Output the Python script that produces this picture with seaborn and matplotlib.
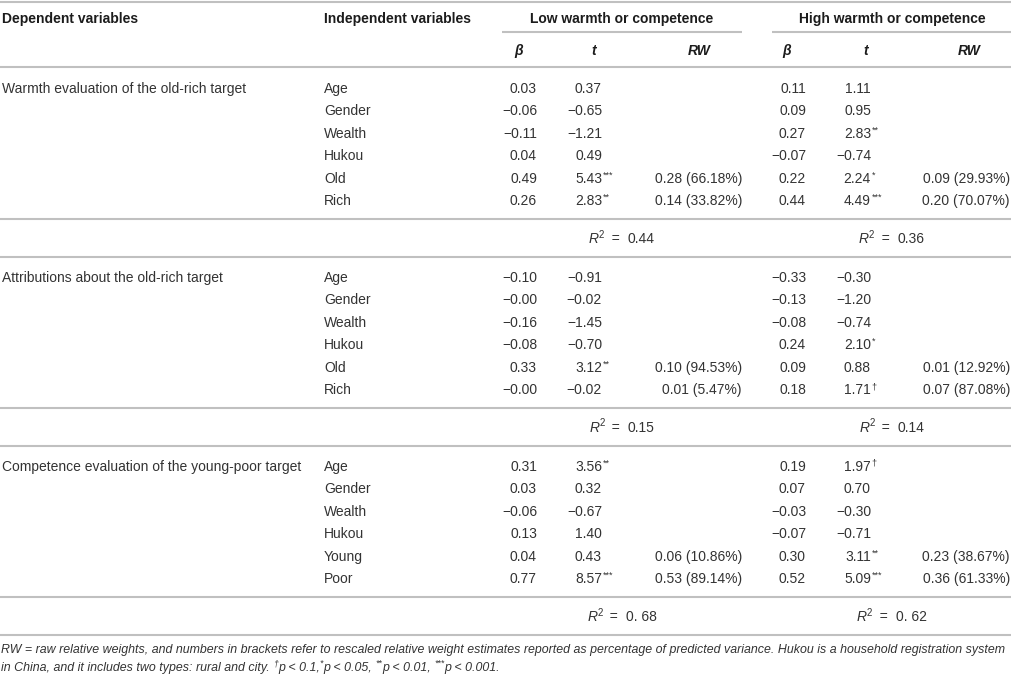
import matplotlib
matplotlib.use("Agg")
import matplotlib.pyplot as plt
from matplotlib import font_manager as fm
import seaborn as sns

# ---- table content -------------------------------------------------------
dependent = ["Warmth evaluation of the old-rich target",
             "Attributions about the old-rich target",
             "Competence evaluation of the young-poor target"]
independent = [["Age", "Gender", "Wealth", "Hukou", "Old", "Rich"],
               ["Age", "Gender", "Wealth", "Hukou", "Old", "Rich"],
               ["Age", "Gender", "Wealth", "Hukou", "Young", "Poor"]]

low_beta = [["0.03", "−0.06", "−0.11", "0.04", "0.49", "0.26"],
            ["−0.10", "−0.00", "−0.16", "−0.08", "0.33", "−0.00"],
            ["0.31", "0.03", "−0.06", "0.13", "0.04", "0.77"]]
low_t = [["0.37", "−0.65", "−1.21", "0.49", "5.43", "2.83"],
         ["−0.91", "−0.02", "−1.45", "−0.70", "3.12", "−0.02"],
         ["3.56", "0.32", "−0.67", "1.40", "0.43", "8.57"]]
low_t_sig = [["", "", "", "", "***", "**"],
             ["", "", "", "", "**", ""],
             ["**", "", "", "", "", "***"]]
low_rw = [["", "", "", "", "0.28 (66.18%)", "0.14 (33.82%)"],
          ["", "", "", "", "0.10 (94.53%)", "0.01 (5.47%)"],
          ["", "", "", "", "0.06 (10.86%)", "0.53 (89.14%)"]]

high_beta = [["0.11", "0.09", "0.27", "−0.07", "0.22", "0.44"],
             ["−0.33", "−0.13", "−0.08", "0.24", "0.09", "0.18"],
             ["0.19", "0.07", "−0.03", "−0.07", "0.30", "0.52"]]
high_t = [["1.11", "0.95", "2.83", "−0.74", "2.24", "4.49"],
          ["−0.30", "−1.20", "−0.74", "2.10", "0.88", "1.71"],
          ["1.97", "0.70", "−0.30", "−0.71", "3.11", "5.09"]]
high_t_sig = [["", "", "**", "", "*", "***"],
              ["", "", "", "*", "", "†"],
              ["†", "", "", "", "**", "***"]]
high_rw = [["", "", "", "", "0.09 (29.93%)", "0.20 (70.07%)"],
           ["", "", "", "", "0.01 (12.92%)", "0.07 (87.08%)"],
           ["", "", "", "", "0.23 (38.67%)", "0.36 (61.33%)"]]

r2_low = ["0.44", "0.15", "0. 68"]
r2_high = ["0.36", "0.14", "0. 62"]

group_titles = ["Low warmth or competence", "High warmth or competence"]
col_titles = ["β", "t", "RW"]

note_line1 = ("RW = raw relative weights, and numbers in brackets refer to rescaled relative weight "
              "estimates reported as percentage of predicted variance. Hukou is a household registration system")
note_line2 = [("in China, and it includes two types: rural and city. ", False),
              ("†", True), ("p < 0.1,", False), ("*", True), ("p < 0.05, ", False),
              ("**", True), ("p < 0.01, ", False), ("***", True), ("p < 0.001.", False)]

# ---- layout ---------------------------------------------------------------
W, H = 1012, 675
TEXT = "#333333"
HEAD = "#1c1c1c"
RULE = "#c0c0c0"
FS = 10

X_DEP, X_IND = 2, 324
GROUP_X = [(502, 742), (772, 1012)]
COL_RIGHT = [(537, 602, 742), (806, 871, 1010)]
COL_HEAD_X = [(519, 594, 699), (787, 866, 969)]
Y_HEAD, Y_GROUP_RULE, Y_SUB, Y_SUB_RULE = 18, 32, 50, 67
FIRST_ROW, ROW_STEP, BLOCK_STEP = 88, 22.4, 189
NOTE_Y = [649, 667]

sns.set_theme(style="white")
plt.rcParams["font.family"] = ["Liberation Sans", "DejaVu Sans"]

names = {f.name for f in fm.fontManager.ttflist}
NOTE_FONT = ["Liberation Sans Narrow", "Liberation Sans", "DejaVu Sans"] \
    if "Liberation Sans Narrow" in names else ["Liberation Sans", "DejaVu Sans"]

fig = plt.figure(figsize=(W / 100, H / 100), dpi=100)
fig.patch.set_facecolor("white")
ax = fig.add_axes([0, 0, 1, 1])
ax.set_xlim(0, W)
ax.set_ylim(H, 0)
ax.axis("off")
renderer = fig.canvas.get_renderer()


def base(yc):
    # row centre -> text baseline
    return yc + 5


def advance(s, **kw):
    a = ax.text(0, 0, s + "|", **kw)
    b = ax.text(0, 0, "|", **kw)
    w = a.get_window_extent(renderer).width - b.get_window_extent(renderer).width
    a.remove()
    b.remove()
    return w


def runs(x, yc, parts, ha="left", size=FS, color=TEXT, family=None, style="normal"):
    # parts: (text, superscript?, extra style)
    items = []
    for s, sup, *extra in parts:
        st = extra[0] if extra else style
        kw = dict(fontsize=size * (0.7 if sup else 1.0), fontstyle=st, color=color)
        if family:
            kw["family"] = family
        items.append((s, sup, kw, advance(s, **kw)))
    total = sum(i[3] for i in items)
    x0 = x - total if ha == "right" else (x - total / 2 if ha == "center" else x)
    for s, sup, kw, w in items:
        ax.text(x0, base(yc) - (size * 0.55 if sup else 0), s, va="baseline", ha="left", **kw)
        x0 += w


# rules
ax.hlines(1.5, 0, W, color=RULE, lw=1.5)
for x0, x1 in GROUP_X:
    ax.hlines(Y_GROUP_RULE, x0, x1, color=RULE, lw=1.5)
ax.hlines(Y_SUB_RULE, 0, W, color=RULE, lw=1.5)

# headers
ax.text(X_DEP, base(Y_HEAD), "Dependent variables", fontweight="bold", fontsize=FS, color=HEAD, va="baseline")
ax.text(X_IND, base(Y_HEAD), "Independent variables", fontweight="bold", fontsize=FS, color=HEAD, va="baseline")
for (x0, x1), title in zip(GROUP_X, group_titles):
    ax.text((x0 + x1) / 2, base(Y_HEAD), title, fontweight="bold", fontsize=FS, color=HEAD,
            ha="center", va="baseline")
for xs in COL_HEAD_X:
    for xc, title in zip(xs, col_titles):
        ax.text(xc, base(Y_SUB), title, fontweight="bold", fontstyle="italic", fontsize=FS,
                color=HEAD, ha="center", va="baseline")

# body
groups = [(low_beta, low_t, low_t_sig, low_rw), (high_beta, high_t, high_t_sig, high_rw)]
for b in range(len(dependent)):
    y_first = FIRST_ROW + b * BLOCK_STEP
    ax.text(X_DEP, base(y_first), dependent[b], fontsize=FS, color=TEXT, va="baseline")
    for r, name in enumerate(independent[b]):
        yc = y_first + r * ROW_STEP
        ax.text(X_IND, base(yc), name, fontsize=FS, color=TEXT, va="baseline")
        for (beta, tv, sig, rw), (xb, xt, xr) in zip(groups, COL_RIGHT):
            ax.text(xb, base(yc), beta[b][r], fontsize=FS, color=TEXT, ha="right", va="baseline")
            ax.text(xt, base(yc), tv[b][r], fontsize=FS, color=TEXT, ha="right", va="baseline")
            if sig[b][r]:
                ax.text(xt + 0.5, base(yc) - 5, sig[b][r], fontsize=6.5, color=TEXT, ha="left",
                        va="baseline")
            if rw[b][r]:
                ax.text(xr, base(yc), rw[b][r], fontsize=FS, color=TEXT, ha="right", va="baseline")
    ax.hlines(y_first + 131, 0, W, color=RULE, lw=1.5)
    for (x0, x1), val in zip(GROUP_X, [r2_low[b], r2_high[b]]):
        runs((x0 + x1) / 2, y_first + 150,
             [("R", False, "italic"), ("2", True), ("  =  ", False), (val, False)], ha="center")
    ax.hlines(y_first + 169, 0, W, color=RULE, lw=1.5)

# footnote, sized so the first line fills the width
probe = ax.text(0, 0, note_line1, fontsize=10, fontstyle="italic", family=NOTE_FONT)
note_fs = 10 * 1008 / probe.get_window_extent(renderer).width
probe.remove()
ax.text(1, base(NOTE_Y[0]) - 1, note_line1, fontsize=note_fs, fontstyle="italic", family=NOTE_FONT,
        color=TEXT, va="baseline")
runs(1, NOTE_Y[1] - 1, [(s, sup) for s, sup in note_line2], size=note_fs, family=NOTE_FONT,
     style="italic")

fig.savefig("out.png", dpi=100, facecolor="white")
